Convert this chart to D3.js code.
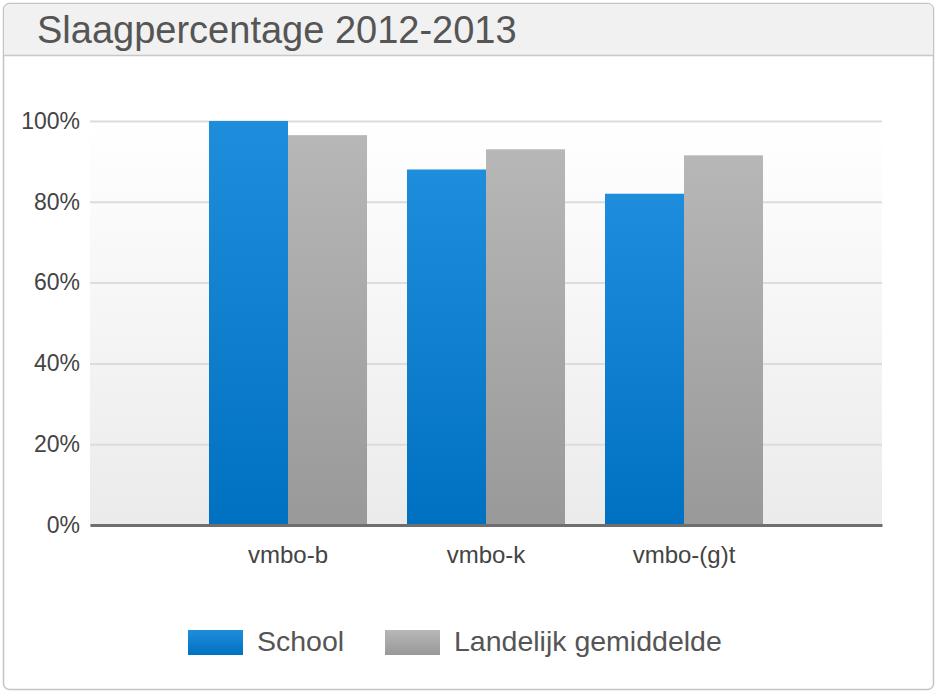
<!DOCTYPE html>
<html><head><meta charset="utf-8">
<script src="https://cdn.jsdelivr.net/npm/d3@7"></script>
<style>body{margin:0;background:#fff;}svg{display:block;font-family:"Liberation Sans",Arial,sans-serif;}</style>
</head><body><svg id="c" width="938" height="693"></svg>
<script>
const title = "Slaagpercentage 2012-2013";
const categories = ["vmbo-b", "vmbo-k", "vmbo-(g)t"];
const seriesNames = ["School", "Landelijk gemiddelde"];
const schoolValues = [100, 88, 82];
const landelijkValues = [96.5, 93, 91.5];
const yTicks = [0, 20, 40, 60, 80, 100];

const svg = d3.select("#c");
const defs = svg.append("defs");
function grad(id, c1, c2){
  const g = defs.append("linearGradient").attr("id", id).attr("x1",0).attr("y1",0).attr("x2",0).attr("y2",1);
  g.append("stop").attr("offset","0%").attr("stop-color",c1);
  g.append("stop").attr("offset","100%").attr("stop-color",c2);
}
grad("gSchool", "#1e8edc", "#0070c0");
grad("gLand", "#b7b7b7", "#999999");
grad("gBg", "#ffffff", "#ebebeb");

// frame
svg.append("rect").attr("x",3.5).attr("y",3.5).attr("width",930).attr("height",686).attr("rx",6)
  .attr("fill","#fff").attr("stroke","#c4c4c4").attr("stroke-width",1.5);
svg.append("path").attr("d","M4,55 L4,10 Q4,4 10,4 L928,4 Q933,4 933,10 L933,55 Z").attr("fill","#f1f1f1");
svg.append("line").attr("x1",4).attr("x2",933).attr("y1",55.5).attr("y2",55.5).attr("stroke","#c8c8c8").attr("stroke-width",1.5);
svg.append("text").attr("x",37).attr("y",43).attr("font-size",38).attr("fill","#555").text(title);

// plot
const m = {left: 90, right: 882, top: 121, bottom: 525};
const y = d3.scaleLinear().domain([0,100]).range([m.bottom, m.top]);
const x0 = d3.scaleBand().domain(categories).range([m.left, m.right]).paddingInner(0).paddingOuter(0.5);
const x1 = d3.scaleBand().domain(seriesNames).range([0, x0.bandwidth()]).paddingInner(0).paddingOuter(0.253);

svg.append("rect").attr("x",m.left).attr("y",m.top).attr("width",m.right-m.left).attr("height",m.bottom-m.top).attr("fill","url(#gBg)");

const yAxis = svg.append("g").attr("transform",`translate(${m.left},0)`)
  .call(d3.axisLeft(y).tickValues(yTicks).tickFormat(d => d + "%").tickSize(-(m.right-m.left)).tickPadding(10));
yAxis.select(".domain").remove();
yAxis.selectAll(".tick line").attr("stroke","#dcdcdc").attr("stroke-width",2);
yAxis.selectAll(".tick text").attr("font-size",23).attr("fill","#444").attr("font-family","Liberation Sans, Arial, sans-serif");

const data = categories.map((c,i) => ({cat:c, vals:[schoolValues[i], landelijkValues[i]]}));
const fills = ["url(#gSchool)", "url(#gLand)"];
const g = svg.append("g").selectAll("g").data(data).join("g").attr("transform", d => `translate(${x0(d.cat)},0)`);
g.selectAll("rect").data(d => d.vals.map((v,j) => ({s:seriesNames[j], v, j}))).join("rect")
  .attr("x", d => x1(d.s)).attr("width", x1.bandwidth())
  .attr("y", d => y(d.v)).attr("height", d => y(0) - y(d.v))
  .attr("fill", d => fills[d.j]);

const xAxis = svg.append("g").attr("transform",`translate(0,${m.bottom})`)
  .call(d3.axisBottom(x0).tickSize(0).tickPadding(21));
xAxis.select(".domain").attr("stroke","#6e6e6e").attr("stroke-width",3);
xAxis.selectAll(".tick text").attr("font-size",24).attr("fill","#444").attr("font-family","Liberation Sans, Arial, sans-serif");

// legend
const legend = svg.append("g");
const lx = [188, 385];
seriesNames.forEach((s,i) => {
  legend.append("rect").attr("x",lx[i]).attr("y",630).attr("width",55).attr("height",25).attr("fill",fills[i]);
  legend.append("text").attr("x",lx[i]+69).attr("y",651).attr("font-size",28.5).attr("fill","#555").text(s);
});
</script></body></html>
